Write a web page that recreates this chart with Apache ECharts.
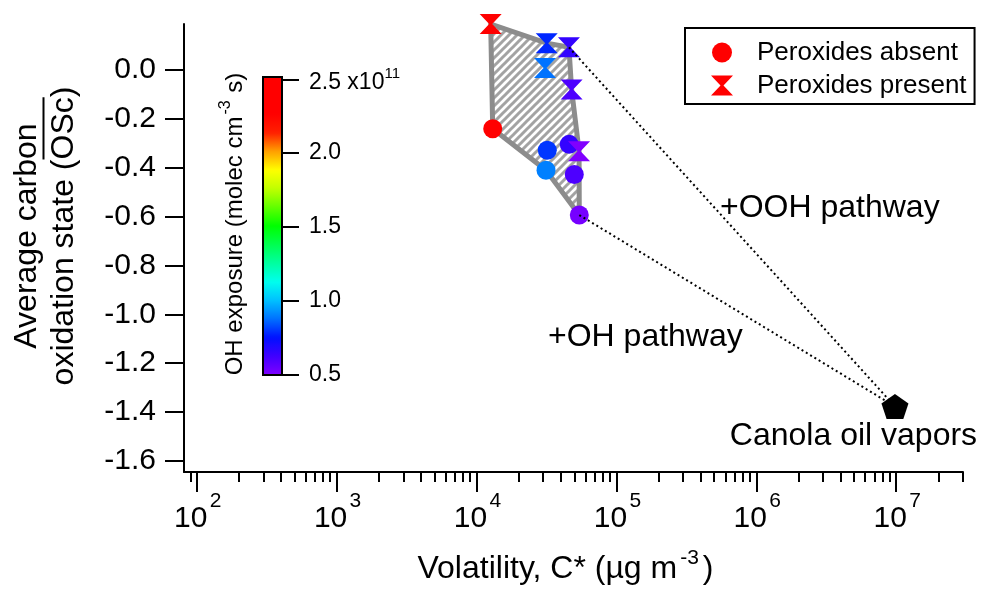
<!DOCTYPE html>
<html><head><meta charset="utf-8">
<script src="https://cdn.jsdelivr.net/npm/echarts@6/dist/echarts.min.js"></script>
<style>html,body{margin:0;padding:0;background:#fff}#c{width:981px;height:590px}</style>
</head><body><div id="c"></div>
<script>
const FONT = '"Liberation Sans", Arial, Helvetica, sans-serif';

// ---- data: [C* (ug m^-3), average carbon oxidation state, OH exposure (x1e11 molec cm^-3 s)]
const peroxidesAbsent = [
  [13060, -0.241, 2.40],
  [32060, -0.329, 0.80],
  [31400, -0.411, 0.90],
  [46000, -0.305, 0.65],
  [50000, -0.428, 0.60],
  [54300, -0.594, 0.52]
];
const peroxidesPresent = [
  [12630, 0.187, 2.40],
  [31770, 0.109, 0.78],
  [30900, 0.007, 0.88],
  [45800, 0.092, 0.65],
  [47850, -0.081, 0.60],
  [54100, -0.333, 0.50]
];
const canolaVapors = [[9.8e6, -1.377]];
const hullPoints = [
  [12630, 0.187], [31770, 0.109], [45800, 0.092], [47850, -0.081],
  [54100, -0.333], [54300, -0.594], [31400, -0.411], [13060, -0.241]
];
const oohPathway = [[45800, 0.092], [9.8e6, -1.377]];
const ohPathway = [[54300, -0.594], [9.8e6, -1.377]];

// ---- ticks
const yTicks = [0.0, -0.2, -0.4, -0.6, -0.8, -1.0, -1.2, -1.4, -1.6];
const xMajorTicks = [1e2, 1e3, 1e4, 1e5, 1e6, 1e7];
const xMinorTicks = [];
for (let e = 1; e <= 7; e++) for (let m = 2; m <= 9; m++) {
  const v = m * Math.pow(10, e);
  if (v > 81.2 && v < 3.003e7) xMinorTicks.push(v);
}
const colorbarTicks = [0.5, 1.0, 1.5, 2.0, 2.5];
const rainbow = ['#8000ff','#4000ff','#0010ff','#0070ff','#00c0ff','#00ffee','#00ffa0','#00ff50',
  '#00ff00','#60ff00','#c0ff00','#ffff00','#ffa000','#ff2000','#ff0000','#ff0000','#ff0000'];

const hourglass = 'path://M0,0L22,0L12.5,10L22,20L0,20L9.5,10Z';
const pentagon = 'path://M50,0L100,38L81,100L19,100L0,38Z';

function hatch() {
  const c = document.createElement('canvas');
  c.width = 8; c.height = 8;
  const g = c.getContext('2d');
  g.strokeStyle = '#a3a3a3'; g.lineWidth = 3;
  g.beginPath();
  g.moveTo(-2, 10); g.lineTo(10, -2);
  g.moveTo(-2, 2); g.lineTo(2, -2);
  g.moveTo(6, 10); g.lineTo(10, 6);
  g.stroke();
  return c;
}
function textW(s, font) {
  const c = document.createElement('canvas').getContext('2d');
  c.font = font; return c.measureText(s).width;
}
const titleFont = '32px ' + FONT;
const line2 = 'oxidation state (OSc)';
const w2 = textW(line2, titleFont);
const wPre = textW('oxidation state (', titleFont);
const wOSc = textW('OSc', titleFont);
const olStart = -w2 / 2 + wPre, olEnd = olStart + wOSc;

const supStyle = (fs) => ({fontSize: fs, lineHeight: fs, verticalAlign: 'top', fontFamily: FONT, color: '#000'});

const chart = echarts.init(document.getElementById('c'), null, {renderer: 'canvas'});
const blackLine = {show: true, onZero: false, lineStyle: {color: '#000', width: 2}};
chart.setOption({
  animation: false,
  backgroundColor: '#fff',
  grid: [
    {left: 184, top: 24, width: 779, height: 450},
    {left: 263, top: 79.3, width: 19, height: 295}
  ],
  xAxis: [
    {type: 'log', logBase: 10, gridIndex: 0, min: 81.14, max: 3.003e7, position: 'bottom',
     axisLine: blackLine,
     axisTick: {show: true, inside: false, length: 20, customValues: xMajorTicks, lineStyle: {color: '#000', width: 2}},
     minorTick: {show: false}, splitLine: {show: false},
     axisLabel: {customValues: xMajorTicks, margin: 30, color: '#000', fontFamily: FONT, fontSize: 30, lineHeight: 34,
       align: 'center', padding: [0, 12, 0, 0],
       formatter: () => '10'},
     name: '{b|Volatility, C* (µg m}{s|-3}{b|)}', nameLocation: 'middle', nameGap: 76,
     nameTextStyle: {fontSize: 32, fontFamily: FONT, color: '#000', padding: [0, 16, 0, 0],
       rich: {b: {fontSize: 32, lineHeight: 34, padding: [8, 0, 0, 0], fontFamily: FONT, color: '#000'},
              s: Object.assign(supStyle(21), {padding: [0, 4, 0, 3]})}}
    },
    {type: 'log', logBase: 10, gridIndex: 0, min: 81.14, max: 3.003e7, position: 'bottom',
     axisLine: {show: false, onZero: false},
     axisTick: {show: true, inside: false, length: 10, customValues: xMinorTicks, lineStyle: {color: '#000', width: 2}},
     axisLabel: {customValues: xMajorTicks, margin: 17, color: '#000', fontFamily: FONT, fontSize: 21, lineHeight: 24,
       align: 'left', padding: [0, 0, 0, 13],
       formatter: v => String(Math.round(Math.log10(v)))},
     splitLine: {show: false}, minorTick: {show: false}},
    {type: 'value', gridIndex: 1, show: false, min: 0, max: 1}
  ],
  yAxis: [
    {type: 'value', gridIndex: 0, min: -1.645, max: 0.1873, position: 'left',
     axisLine: blackLine,
     axisTick: {show: true, inside: false, length: 19, customValues: yTicks, lineStyle: {color: '#000', width: 2}},
     axisLabel: {customValues: yTicks, margin: 28, fontSize: 30, fontFamily: FONT, color: '#000',
       formatter: v => v.toFixed(1)},
     splitLine: {show: false}},
    {type: 'value', gridIndex: 1, min: 0.5, max: 2.5, interval: 0.5, position: 'right',
     axisLine: {show: false, onZero: false},
     axisTick: {show: true, inside: false, length: 17, lineStyle: {color: '#000', width: 2}},
     axisLabel: {margin: 27, fontSize: 23, fontFamily: FONT, color: '#000',
       formatter: v => v === 2.5 ? '{b|2.5 x10}{s|11}' : v.toFixed(1),
       rich: {b: {fontSize: 23, lineHeight: 26, padding: [6, 0, 0, 0], fontFamily: FONT, color: '#000'},
              s: supStyle(15)}},
     splitLine: {show: false}}
  ],
  visualMap: {
    type: 'continuous', min: 0.5, max: 2.5, dimension: 2, seriesIndex: [1, 2],
    left: 263, top: 77, itemWidth: 19, itemHeight: 298, padding: 0,
    text: null, calculable: false, hoverLink: false,
    inRange: {color: rainbow}
  },
  legend: {
    orient: 'vertical', left: 685, top: 28, padding: [11.5, 8, 5.5, 26], itemGap: 7,
    itemWidth: 60, itemHeight: 20, borderColor: '#000', borderWidth: 2, borderRadius: 0,
    selectedMode: false,
    textStyle: {fontSize: 26, fontFamily: FONT, color: '#000'},
    data: [
      {name: 'Peroxides absent', icon: 'circle', itemStyle: {color: '#ff0000'}},
      {name: 'Peroxides present', icon: hourglass, itemStyle: {color: '#ff0000'}}
    ]
  },
  series: [
    {type: 'custom', name: 'hull', xAxisIndex: 0, yAxisIndex: 0, z: 1, silent: true,
     data: [hullPoints[0]],
     renderItem: (params, api) => ({
       type: 'polygon',
       shape: {points: hullPoints.map(p => api.coord(p))},
       style: {fill: {image: hatch(), repeat: 'repeat'}, stroke: '#8c8c8c', lineWidth: 5, lineJoin: 'round'}
     })},
    {type: 'scatter', name: 'Peroxides absent', data: peroxidesAbsent, symbol: 'circle', symbolSize: 19,
     itemStyle: {color: '#ff0000', opacity: 1}, z: 3, clip: false},
    {type: 'scatter', name: 'Peroxides present', data: peroxidesPresent, symbol: hourglass, symbolSize: [22, 20],
     itemStyle: {color: '#ff0000', opacity: 1}, z: 4, clip: false},
    {type: 'line', name: 'ooh', data: oohPathway, showSymbol: false, z: 5, silent: true,
     lineStyle: {color: '#000', width: 2, type: [2, 3]}},
    {type: 'line', name: 'oh', data: ohPathway, showSymbol: false, z: 5, silent: true,
     lineStyle: {color: '#000', width: 2, type: [2, 3]}},
    {type: 'scatter', name: 'canola', data: canolaVapors, symbol: pentagon, symbolSize: [27, 25],
     itemStyle: {color: '#000', opacity: 1}, z: 6, clip: false,
     label: {show: true, position: 'bottom', distance: 1, offset: [-41.5, 0], formatter: 'Canola oil vapors',
       fontSize: 32, fontFamily: FONT, color: '#000', opacity: 1}}
  ],
  graphic: [
    {type: 'rect', shape: {x: 263, y: 77, width: 19, height: 298},
     style: {fill: null, stroke: '#000', lineWidth: 2}, z: 100},
    {type: 'group', x: 46, y: 236, rotation: Math.PI / 2, children: [
      {type: 'text', x: 0, y: -18.5, style: {text: 'Average carbon', font: titleFont, fill: '#000', align: 'center', verticalAlign: 'middle'}},
      {type: 'text', x: 0, y: 18.5, style: {text: line2, font: titleFont, fill: '#000', align: 'center', verticalAlign: 'middle'}},
      {type: 'line', shape: {x1: olStart, y1: -2.5, x2: olEnd, y2: -2.5}, style: {stroke: '#000', lineWidth: 2}}
    ]},
    {type: 'group', x: 230.5, y: 224, rotation: Math.PI / 2, children: [
      {type: 'text', x: 0, y: 0, style: {text: '{b|OH exposure (molec cm}{s|-3}{b| s)}', font: '24px ' + FONT, fill: '#000',
        align: 'center', verticalAlign: 'middle',
        rich: {b: {fontSize: 24, lineHeight: 26, padding: [9, 0, 0, 0], fontFamily: FONT, fill: '#000'},
               s: {fontSize: 16, lineHeight: 16, verticalAlign: 'top', fontFamily: FONT, fill: '#000', padding: [0, 1, 0, 2]}}}}
    ]},
    {type: 'text', x: 720, y: 208, style: {text: '+OOH pathway', font: '32px ' + FONT, fill: '#000', align: 'left', verticalAlign: 'middle'}},
    {type: 'text', x: 548, y: 337, style: {text: '+OH pathway', font: '32px ' + FONT, fill: '#000', align: 'left', verticalAlign: 'middle'}}
  ]
});
</script></body></html>
